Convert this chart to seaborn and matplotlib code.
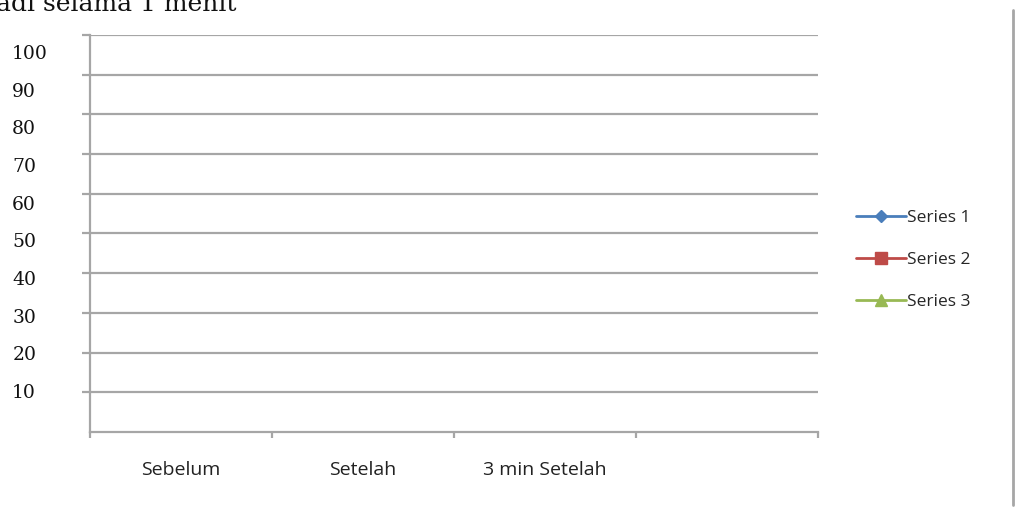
import numpy as np
import pandas as pd
import seaborn as sns
import matplotlib.pyplot as plt
import matplotlib.transforms as mtransforms
from matplotlib.lines import Line2D

categories = ["Sebelum", "Setelah", "3 min Setelah", ""]
series_names = ["Series 1", "Series 2", "Series 3"]
series_1 = [np.nan, np.nan, np.nan, np.nan]
series_2 = [np.nan, np.nan, np.nan, np.nan]
series_3 = [np.nan, np.nan, np.nan, np.nan]
y_ticks = [10, 20, 30, 40, 50, 60, 70, 80, 90, 100]

colors = ["#4a7ebb", "#be4b48", "#98b954"]
markers = ["D", "s", "^"]
grid_col = "#a6a6a6"


def build_graph():
    sns.set_style("white")
    plt.rcParams["font.family"] = ["DejaVu Sans"]
    fig = plt.figure(figsize=(10.23, 5.13), dpi=100)
    ax = fig.add_axes([0.088, 0.158, 0.712, 0.774])

    x = np.arange(len(categories)) + 0.5
    df = pd.DataFrame({"x": x, "Series 1": series_1,
                       "Series 2": series_2, "Series 3": series_3})
    handles = []
    for name, c, m in zip(series_names, colors, markers):
        h, = ax.plot(df["x"], df[name], color=c, marker=m, lw=2,
                     markersize=9 if m != "D" else 6.5, label=name)
        handles.append(h)

    ax.set_xlim(0, len(categories))
    ax.set_ylim(0, 100)
    ax.set_yticks(y_ticks)
    ax.set_yticklabels([str(v) for v in y_ticks], fontfamily="DejaVu Serif",
                       fontsize=13.5, color="#111111")
    ax.yaxis.grid(True, color=grid_col, lw=1.6)
    ax.tick_params(axis="y", left=True, length=6, width=1.6, color=grid_col,
                   pad=50)
    # the value labels in the original drift slightly below their gridlines
    for v, lab in zip(y_ticks, ax.get_yticklabels()):
        lab.set_horizontalalignment("left")
        shift = -(0.203 * v - 3.3) / 100
        lab.set_transform(lab.get_transform() +
                          mtransforms.ScaledTranslation(0, shift, fig.dpi_scale_trans))

    # category boundaries as ticks, labels centered between them
    ax.set_xticks(np.arange(len(categories) + 1))
    ax.set_xticklabels([])
    ax.set_xticks(x, minor=True)
    ax.set_xticklabels(categories, minor=True, fontfamily="Open Sans",
                       fontsize=14, color="#222222")
    ax.tick_params(axis="x", which="major", bottom=True, length=4.5, width=1.6,
                   color=grid_col, direction="out")
    ax.tick_params(axis="x", which="minor", bottom=True, length=0, pad=21)

    for side in ["top", "right"]:
        ax.spines[side].set_visible(False)
    for side in ["left", "bottom"]:
        ax.spines[side].set_color(grid_col)
        ax.spines[side].set_linewidth(1.6)

    fig.legend(handles=handles, loc="center left",
               bbox_to_anchor=(0.821, 0.493), frameon=False,
               prop={"family": "Open Sans", "size": 12.5},
               handlelength=2.9, handletextpad=0.05, labelspacing=1.47)

    fig.text(-0.004, 0.979, "adi selama 1 menit", fontfamily="DejaVu Serif",
             fontsize=18, va="baseline", ha="left", color="#111111")
    fig.add_artist(Line2D([0.990, 0.990], [0.016, 0.98],
                          color=grid_col, lw=2))

    fig.savefig("out.png", dpi=100)


if __name__ == "__main__":
    build_graph()
